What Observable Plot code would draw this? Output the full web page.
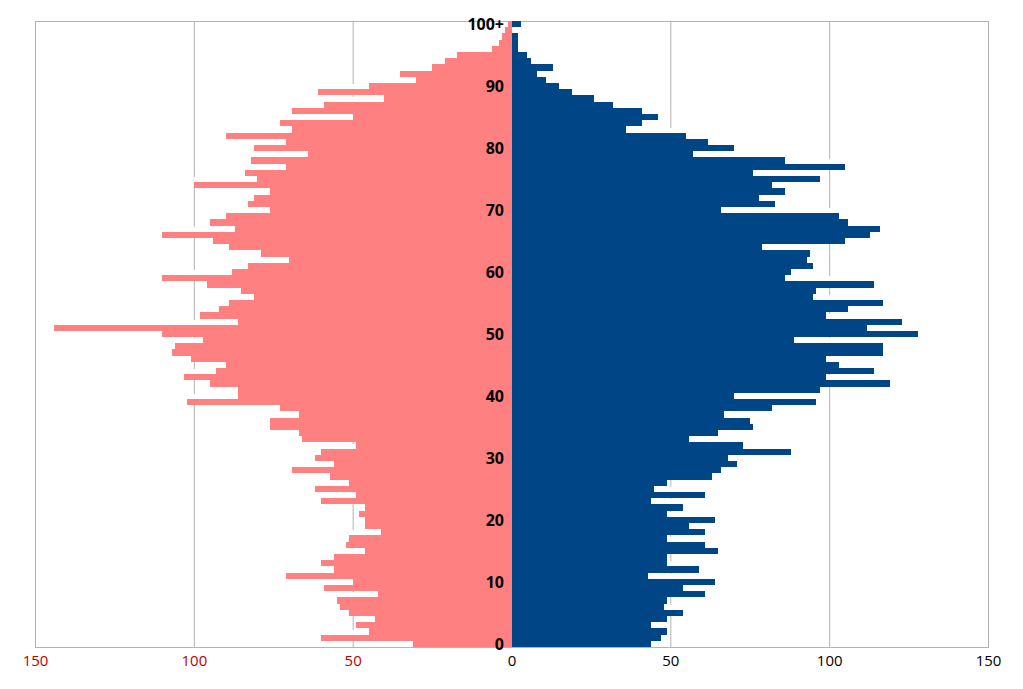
<!DOCTYPE html>
<html>
<head>
<meta charset="utf-8">
<script src="https://cdn.jsdelivr.net/npm/d3@7"></script>
<script src="https://cdn.jsdelivr.net/npm/@observablehq/plot@0.6"></script>
<style>
  html, body { margin: 0; padding: 0; background: #fff; }
  #chart svg { display: block; }
</style>
</head>
<body>
<div id="chart"></div>
<script>
// Ages 0 .. 100 (100 = "100+")
const ages = d3.range(0, 101);

// Left (pink) series, index = age
const leftValues = [
  31, 60, 45, 49, 43, 51, 54, 55, 42, 59,
  50, 71, 56, 60, 56, 46, 52, 51, 41, 46,
  46, 48, 46, 60, 49, 62, 51, 57, 69, 56,
  62, 60, 49, 66, 67, 76, 76, 67, 73, 102,
  86, 86, 95, 103, 93, 90, 101, 107, 106, 97,
  110, 144, 86, 98, 92, 89, 81, 85, 96, 110,
  88, 83, 70, 79, 89, 94, 110, 87, 95, 90,
  76, 83, 81, 76, 100, 80, 84, 71, 82, 64,
  81, 71, 90, 69, 73, 50, 69, 59, 40, 61,
  45, 30, 35, 25, 21, 17, 6, 4, 3, 2,
  1
];

// Right (blue) series, index = age
const rightValues = [
  44, 47, 49, 44, 49, 54, 48, 49, 61, 54,
  64, 43, 59, 49, 49, 65, 61, 49, 61, 56,
  64, 49, 54, 44, 61, 45, 49, 63, 66, 71,
  68, 88, 73, 56, 65, 76, 75, 67, 82, 96,
  70, 97, 119, 99, 114, 103, 99, 117, 117, 89,
  128, 112, 123, 99, 106, 117, 95, 96, 114, 86,
  88, 95, 93, 94, 79, 105, 113, 116, 106, 103,
  66, 83, 78, 86, 82, 97, 76, 105, 86, 57,
  70, 62, 55, 36, 41, 46, 41, 32, 26, 19,
  15, 11, 8, 13, 6, 5, 2, 2, 2, 0,
  3
];

// Tick definitions
const yTickAges = [0, 10, 20, 30, 40, 50, 60, 70, 80, 90, 100];
const yTickLabels = ["0", "10", "20", "30", "40", "50", "60", "70", "80", "90", "100+"];
const xTicks = [-150, -100, -50, 0, 50, 100, 150];
const xTickLabels = ["150", "100", "50", "0", "50", "100", "150"];

const leftRows = ages.map((a, i) => ({age: a, value: leftValues[i]}));
const rightRows = ages.map((a, i) => ({age: a, value: rightValues[i]}));

const FONT = "'Open Sans', 'DejaVu Sans', sans-serif";
const crisp = {shapeRendering: "crispEdges"};

const chart = Plot.plot({
  width: 1023,
  height: 689,
  marginLeft: 35,
  marginRight: 35,
  marginTop: 21,
  marginBottom: 42,
  style: {fontFamily: FONT, background: "#fff"},
  x: {domain: [-150, 150], axis: null},
  y: {type: "band", domain: ages.slice().reverse(), padding: 0, round: false, axis: null},
  marks: [
    Plot.gridX(xTicks, {stroke: "#b3b3b3", strokeOpacity: 1, strokeWidth: 1}),
    Plot.frame({stroke: "#b3b3b3", strokeWidth: 1}),
    // white "shadow" of each bar, offset upward
    Plot.barX(leftRows, {x1: 0, x2: d => -d.value, y: "age", fill: "#ffffff", dy: -5, ...crisp}),
    Plot.barX(rightRows, {x1: 0, x2: d => d.value, y: "age", fill: "#ffffff", dy: -5, ...crisp}),
    // bars
    Plot.barX(leftRows, {x1: 0, x2: d => -d.value, y: "age", fill: "#ff8080", ...crisp}),
    Plot.barX(rightRows, {x1: 0, x2: d => d.value, y: "age", fill: "#004586", ...crisp}),
    // age labels
    Plot.text(yTickAges, {
      x: 0, y: d => d, text: (d, i) => yTickLabels[i],
      textAnchor: "end", dx: -8, fontWeight: "bold", fontSize: 16, fill: "#000"
    }),
    // x tick labels
    Plot.text(xTicks, {
      x: d => d, frameAnchor: "bottom", dy: 18, text: (d, i) => xTickLabels[i],
      fontSize: 15, fill: d => d < 0 ? "#c00000" : "#000"
    })
  ]
});

document.getElementById("chart").appendChild(chart);
</script>
</body>
</html>
